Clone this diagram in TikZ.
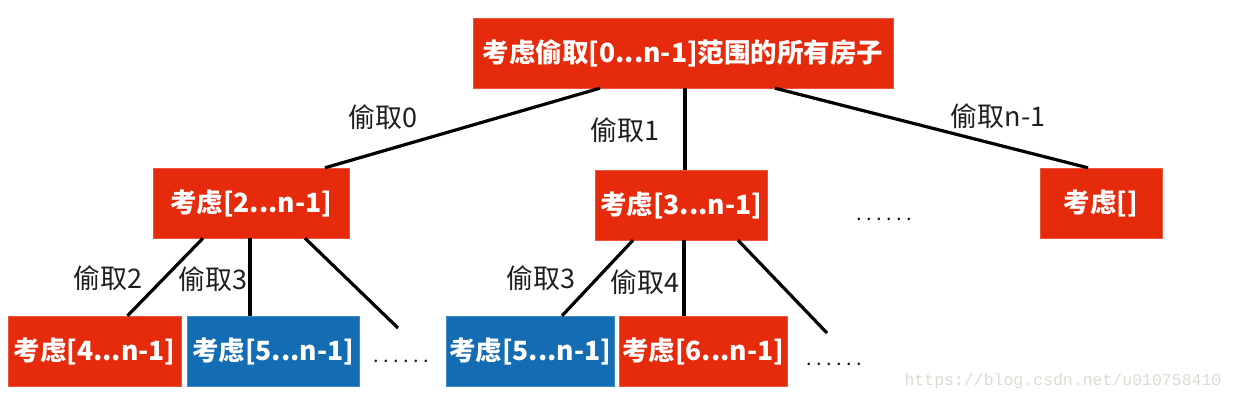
\documentclass[tikz,border=0pt]{standalone}
\usepackage{fontspec}
\setmainfont{Noto Sans CJK SC}
\newfontfamily\markfont{Liberation Mono}
\usetikzlibrary{positioning, calc}
\definecolor{boxred}{RGB}{230, 42, 12}
\definecolor{boxblue}{RGB}{20, 108, 178}
\definecolor{labelgray}{RGB}{30, 30, 30}
\definecolor{markgray}{RGB}{222, 218, 210}

\begin{document}
\begin{tikzpicture}[x=1pt, y=-1pt,
  redbox/.style={fill=boxred, draw=boxred!80!white, text=white, font=\fontsize{26.5}{30}\selectfont\bfseries, minimum height=70pt, inner sep=0pt},
  bluebox/.style={redbox, fill=boxblue, draw=boxblue!80!white},
  steal/.style={text=labelgray, font=\fontsize{27}{30}\selectfont, inner sep=0pt},
  dots/.style={text=labelgray, font=\fontsize{20}{24}\selectfont, inner sep=0pt},
  branch/.style={line width=3.2pt, black}]
  \useasboundingbox (0,0) rectangle (1235,401);

  \node[redbox, minimum width=420pt] (root) at (683,53) {考虑偷取[0...n-1]范围的所有房子};

  \node[redbox, minimum width=196pt] (stA) at (251,203) {考虑[2...n-1]};
  \node[redbox, minimum width=172pt] (stB) at (681,205) {考虑[3...n-1]};
  \node[redbox, minimum width=122pt] (stC) at (1101,203) {考虑[]};
  \node[dots] (moreB) at (884,219) {.\hspace{4.5pt}.\hspace{4.5pt}.\hspace{4.5pt}.\hspace{4.5pt}.\hspace{4.5pt}.};

  \node[redbox, minimum width=173pt] (st4) at (94.5,351) {考虑[4...n-1]};
  \node[bluebox, minimum width=172pt] (st5) at (273,351) {考虑[5...n-1]};
  \node[dots] (moreA) at (401,361) {.\hspace{4.5pt}.\hspace{4.5pt}.\hspace{4.5pt}.\hspace{4.5pt}.\hspace{4.5pt}.};
  \node[bluebox, minimum width=168pt] (st5b) at (530,351) {考虑[5...n-1]};
  \node[redbox, minimum width=168pt] (st6) at (703,351) {考虑[6...n-1]};
  \node[dots] (moreC) at (834,364) {.\hspace{4.5pt}.\hspace{4.5pt}.\hspace{4.5pt}.\hspace{4.5pt}.\hspace{4.5pt}.};

  \coordinate (endA) at (398,328);
  \coordinate (endB) at (827,333);

  \draw[branch] ([xshift=-83pt]root.south) -- ([xshift=74pt]stA.north);
  \draw[branch] ([xshift=4pt]stB.north) -- ([xshift=4pt]stB.north |- root.south);
  \draw[branch] ([xshift=92pt]root.south) -- ([xshift=-13pt]stC.north);

  \draw[branch] ([xshift=-48pt]stA.south) -- ([xshift=33pt]st4.north);
  \draw[branch] ([xshift=-23pt]st5.north) -- ([xshift=-23pt]st5.north |- stA.south);
  \draw[branch] ([xshift=54pt]stA.south) -- (endA);

  \draw[branch] ([xshift=-48pt]stB.south) -- ([xshift=32pt]st5b.north);
  \draw[branch] ([xshift=-19pt]st6.north) -- ([xshift=-19pt]st6.north |- stB.south);
  \draw[branch] ([xshift=57pt]stB.south) -- (endB);

  \node[steal] (s0) at (383,117) {偷取0};
  \node[steal] (s1) at (625,130) {偷取1};
  \node[steal] (sn) at (998,116) {偷取n-1};
  \node[steal] (s2) at (108,278) {偷取2};
  \node[steal] (s3) at (213,279) {偷取3};
  \node[steal] (s3b) at (541,278) {偷取3};
  \node[steal] (s4) at (645,282) {偷取4};

  \node[text=markgray, font=\markfont\fontsize{16.5}{18}\selectfont, inner sep=0pt] (mark) at (1063,381) {https://blog.csdn.net/u010758410};
\end{tikzpicture}
\end{document}
